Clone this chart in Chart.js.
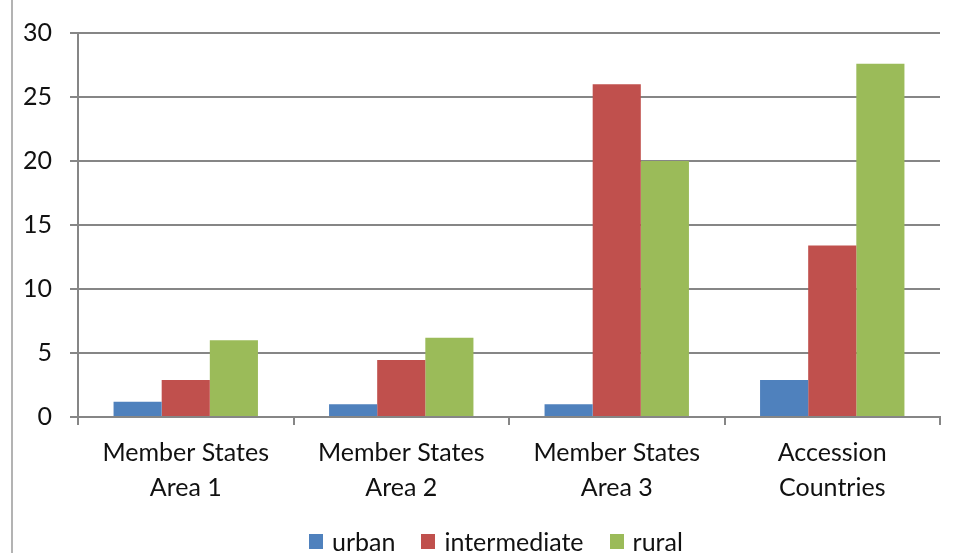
<!DOCTYPE html>
<html>
<head>
<meta charset="utf-8">
<script src="https://cdn.jsdelivr.net/npm/chart.js@4"></script>
<style>
  html, body { margin: 0; padding: 0; background: #fff; }
  #wrap { position: relative; width: 955px; height: 553px; overflow: hidden; }
  #legend {
    position: absolute; left: 309px; top: 527px; height: 28px;
    display: flex; align-items: center;
    font-family: Lato, "Noto Sans", sans-serif; font-size: 25px; color: #111;
  }
  #legend .item { display: flex; align-items: center; margin-right: 26px; }
  #legend .box { width: 14px; height: 15px; margin-right: 9px; }
</style>
</head>
<body>
<div id="wrap">
  <canvas id="chart" width="955" height="553"></canvas>
  <div id="legend"></div>
</div>
<script>
var categories = [['Member States', 'Area 1'], ['Member States', 'Area 2'], ['Member States', 'Area 3'], ['Accession', 'Countries']];
var seriesNames = ['urban', 'intermediate', 'rural'];
var urban = [1.2, 1.0, 1.0, 2.9];
var intermediate = [2.9, 4.45, 26.0, 13.4];
var rural = [6.0, 6.2, 20.0, 27.6];
var seriesColors = ['#4F81BD', '#C0504D', '#9BBB59'];

var fontFamily = 'Lato, "Noto Sans", sans-serif';

// grey rule down the left edge
var leftRule = {
    id: 'leftRule',
    afterDraw: function (chart) {
        var ctx = chart.ctx;
        ctx.save();
        ctx.strokeStyle = '#9a9a9a';
        ctx.lineWidth = 1.5;
        ctx.beginPath();
        ctx.moveTo(12, 0);
        ctx.lineTo(12, 553);
        ctx.stroke();
        ctx.restore();
    }
};

var ctx = document.getElementById('chart').getContext('2d');
var chart = new Chart(ctx, {
    type: 'bar',
    data: {
        labels: categories,
        datasets: [
            { label: seriesNames[0], data: urban, backgroundColor: seriesColors[0] },
            { label: seriesNames[1], data: intermediate, backgroundColor: seriesColors[1] },
            { label: seriesNames[2], data: rural, backgroundColor: seriesColors[2] }
        ]
    },
    options: {
        responsive: false,
        animation: false,
        layout: { padding: { left: 0, right: 15, top: 33, bottom: 0 } },
        datasets: { bar: { categoryPercentage: 0.67, barPercentage: 1.0 } },
        plugins: {
            legend: { display: false },
            tooltip: { enabled: false }
        },
        scales: {
            x: {
                offset: true,
                grid: {
                    offset: true,
                    drawOnChartArea: false,
                    drawTicks: true,
                    tickLength: 8,
                    color: '#868686',
                    lineWidth: 2
                },
                border: { color: '#868686', width: 2 },
                ticks: { color: '#111', font: { family: fontFamily, size: 25, lineHeight: 1.4 }, padding: 10 },
                afterFit: function (scale) { scale.height = 136; }
            },
            y: {
                min: 0,
                max: 30,
                ticks: { stepSize: 5, color: '#111', font: { family: fontFamily, size: 25 }, padding: 18 },
                grid: { color: '#868686', lineWidth: 2, tickLength: 8 },
                border: { color: '#868686', width: 2 },
                afterFit: function (scale) { scale.width = 78; }
            }
        }
    },
    plugins: [leftRule]
});

// legend as plain html below the plot
var legend = document.getElementById('legend');
chart.data.datasets.forEach(function (ds) {
    var item = document.createElement('div');
    item.className = 'item';
    var box = document.createElement('span');
    box.className = 'box';
    box.style.background = ds.backgroundColor;
    var txt = document.createElement('span');
    txt.textContent = ds.label;
    item.appendChild(box);
    item.appendChild(txt);
    legend.appendChild(item);
});
</script>
</body>
</html>
